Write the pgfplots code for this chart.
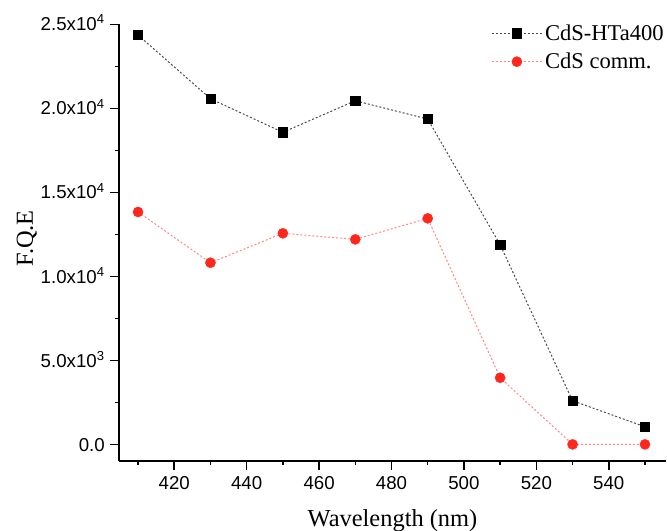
\documentclass[border=0pt]{standalone}
\usepackage{fontspec}
\setmainfont{Liberation Serif}
\newfontfamily\arial{Liberation Sans}
\usepackage{pgfplots}
\pgfplotsset{compat=1.18}
\definecolor{myred}{RGB}{255,38,28}
\begin{document}
\begin{tikzpicture}
\begin{axis}[
  scale only axis,
  width=410pt, height=327.4pt,
  xmin=404.75, xmax=555.8,
  ymin=-994, ymax=25000,
  scaled y ticks=false,
  clip=false,
  axis x line*=bottom, axis y line*=left,
  axis line style={-, line width=1.2pt},
  tick align=outside,
  major tick length=6.5pt, minor tick length=3pt,
  every tick/.style={black, line width=1.1pt},
  xtick={420,440,...,540},
  minor xtick={410,430,...,550},
  ytick={0,5000,10000,15000,20000,25000},
  minor ytick={2500,7500,12500,17500,22500},
  yticklabels={0.0, 5.0x10\textsuperscript{3}, 1.0x10\textsuperscript{4}, 1.5x10\textsuperscript{4}, 2.0x10\textsuperscript{4}, 2.5x10\textsuperscript{4}},
  xticklabel style={font=\arial\fontsize{14}{16}\selectfont, inner sep=0pt},
  xticklabel shift=5pt,
  yticklabel style={font=\arial\fontsize{14}{16}\selectfont, anchor=base east, inner sep=0pt, xshift=-4pt, yshift=-5pt},
  /pgf/number format/assume math mode=true,
  xlabel={Wavelength (nm)}, ylabel={F.Q.E},
  label style={font=\fontsize{18.3}{20}\selectfont},
  xlabel style={at={([yshift=-49.2pt]axis description cs:0.5,0)}, anchor=base, inner sep=0pt},
  ylabel style={at={([xshift=-64.5pt]axis description cs:0,0.51)}, anchor=base, inner sep=0pt},
  legend style={at={([xshift=0.5pt,yshift=2pt]rel axis cs:1,1)}, anchor=north east, draw=none, fill=none,
    font=\fontsize{16.9}{18}\selectfont, row sep=4pt, inner sep=0pt},
  legend cell align=left,
  legend image code/.code={\draw[mark repeat=2,mark phase=2] plot coordinates {(0pt,0pt)(18.75pt,0pt)(37.5pt,0pt)};},
]
\coordinate (ll) at (rel axis cs:0,0);
\coordinate (ur) at (rel axis cs:1,1);
\addplot[black!70, dash pattern=on 1.5pt off 1.5pt, line width=0.75pt, mark=square*, mark size=3.5pt, mark options={solid, fill=black, draw=black, line width=0.4pt}]
coordinates {(410,24360)(430,20570)(450,18570)(470,20450)(490,19360)(510,11880)(530,2595)(550,1048)};
\addlegendentry{CdS-HTa400}
\addplot[myred!55, dash pattern=on 1.5pt off 1.5pt, line width=0.75pt, mark=*, mark size=3.8pt, mark options={solid, fill=myred, draw=myred, line width=0.3pt}]
coordinates {(410,13830)(430,10810)(450,12560)(470,12200)(490,13450)(510,3964)(530,0)(550,0)};
\addlegendentry{CdS comm.}
\end{axis}
\pgfresetboundingbox
\path[use as bounding box] ([shift={(-89.2pt,-51.7pt)}]ll) rectangle ([shift={(0.75pt,18.2pt)}]ur);
\end{tikzpicture}
\end{document}
